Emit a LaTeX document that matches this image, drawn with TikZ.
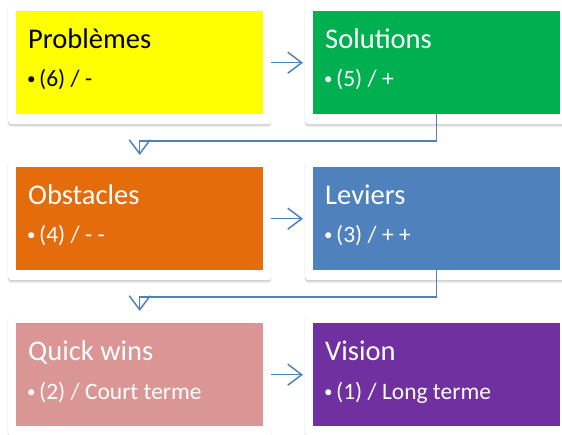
\documentclass[tikz,border=0pt]{standalone}
\usepackage{fontspec}
\setmainfont{Carlito}
\usetikzlibrary{arrows.meta,shadows}
\definecolor{cYellow}{HTML}{FFFF00}
\definecolor{cGreen}{HTML}{00B050}
\definecolor{cOrange}{HTML}{E46C0A}
\definecolor{cBlue}{HTML}{4F81BD}
\definecolor{cPink}{HTML}{D99694}
\definecolor{cPurple}{HTML}{7030A0}
\definecolor{link}{HTML}{4F81BD}
\tikzset{
  card/.style={rectangle, rounded corners=3pt, fill=white, draw=none,
    minimum width=263pt, minimum height=120pt, anchor=north west, inner sep=0pt,
    drop shadow={shadow xshift=0pt, shadow yshift=-1.5pt, opacity=0.10, fill=black},
    drop shadow={shadow xshift=0pt, shadow yshift=-3pt, opacity=0.07, fill=black},
    drop shadow={shadow xshift=-0.8pt, shadow yshift=-0.5pt, opacity=0.06, fill=black}},
  panel/.style={rectangle, draw=none, minimum width=247pt, minimum height=103pt,
    anchor=north west, inner sep=0pt},
  title/.style={anchor=base west, inner sep=0pt, font=\fontsize{28.5}{32}\selectfont},
  item/.style={anchor=base west, inner sep=0pt, font=\fontsize{23.5}{27}\selectfont},
  flow/.style={draw=link, line width=1.5pt,
    -{Straight Barb[length=14pt, width=21pt, line width=1.5pt]}},
}
\newcommand{\bul}{{\fontsize{17}{20}\selectfont\raisebox{1.5pt}{•}}\hspace{3.5pt}}
\begin{document}
\begin{tikzpicture}[x=1pt, y=-1pt]
  \useasboundingbox (0,0) rectangle (562,435);

  % white cards behind the coloured panels
  \node[card] (c1) at (8,4) {};
  \node[card] (c2) at (305,4) {};
  \node[card] (c3) at (8,160) {};
  \node[card] (c4) at (305,160) {};
  \node[card] (c5) at (8,316) {};
  \node[card] (c6) at (305,316) {};

  % coloured panels
  \node[panel, fill=cYellow] (p1) at (16,11) {};
  \node[panel, fill=cGreen]  (p2) at (313,11) {};
  \node[panel, fill=cOrange] (p3) at (16,167) {};
  \node[panel, fill=cBlue]   (p4) at (313,167) {};
  \node[panel, fill=cPink]   (p5) at (16,323) {};
  \node[panel, fill=cPurple] (p6) at (313,323) {};

  % panel texts
  \node[title, text=black] (t1) at (28,48.3) {Problèmes};
  \node[item, text=black]  (i1) at (27,86.5) {\bul(6) / -};
  \node[title, text=white] (t2) at (325,48.3) {Solutions};
  \node[item, text=white]  (i2) at (324,86.5) {\bul(5) / +};
  \node[title, text=white] (t3) at (28,204.3) {Obstacles};
  \node[item, text=white]  (i3) at (27,242.5) {\bul(4) / - -};
  \node[title, text=white] (t4) at (325,204.3) {Leviers};
  \node[item, text=white]  (i4) at (324,242.5) {\bul(3) / + +};
  \node[title, text=white] (t5) at (28,360.3) {Quick wins};
  \node[item, text=white]  (i5) at (27,399.3) {\bul(2) / Court terme};
  \node[title, text=white] (t6) at (325,360.3) {Vision};
  \node[item, text=white]  (i6) at (324,399.3) {\bul(1) / Long terme};

  % horizontal links
  \draw[flow] (c1.east |- p1.west) -- ([xshift=-2pt]c2.west |- p2.west);
  \draw[flow] (c3.east |- p3.west) -- ([xshift=-2pt]c4.west |- p4.west);
  \draw[flow] (c5.east |- p5.west) -- ([xshift=-2pt]c6.west |- p6.west);

  % elbow links to the next row
  \coordinate (k1) at (436.5,141);
  \coordinate (k2) at (436.5,297);
  \draw[flow] (p2.south -| k1) -- (k1) -| ([yshift=5pt]c3.north -| p3.north);
  \draw[flow] (p4.south -| k2) -- (k2) -| ([yshift=5pt]c5.north -| p5.north);
\end{tikzpicture}
\end{document}
